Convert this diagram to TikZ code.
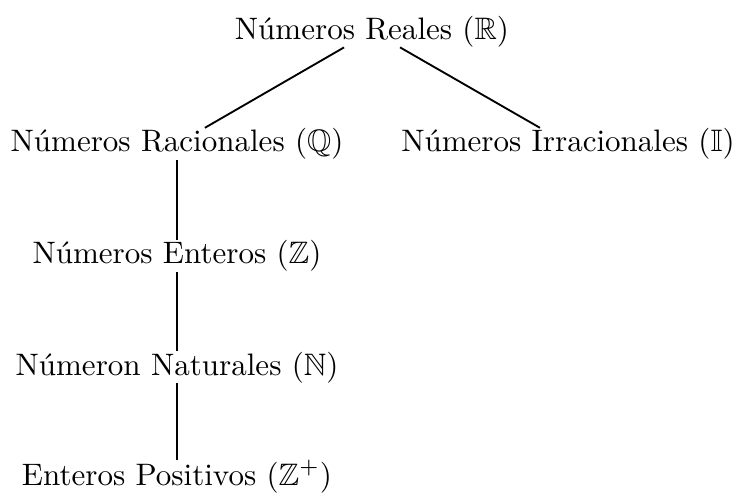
\documentclass[tikz,border=0pt]{standalone}
\usepackage{amssymb}
\begin{document}
\begin{tikzpicture}[x=0.3222pt,y=-0.3222pt,
  lbl/.style={inner sep=0pt,anchor=base},
  edge/.style={semithick}]
\useasboundingbox (0,0) rectangle (736,497);
\node[lbl] (R) at (372,39) {Números Reales ($\mathbb{R}$)};
\node[lbl] (Q) at (177,151.7) {Números Racionales ($\mathbb{Q}$)};
\node[lbl] (I) at (568,151.7) {Números Irracionales ($\mathbb{I}$)};
\node[lbl] (Z) at (177,263.5) {Números Enteros ($\mathbb{Z}$)};
\node[lbl] (N) at (177,375) {Númeron Naturales ($\mathbb{N}$)};
\node[lbl] (P) at (177,485) {Enteros Positivos ($\mathbb{Z}^{+}$)};
\draw[edge] (R) -- (Q);
\draw[edge] (R) -- (I);
\draw[edge] (Q) -- (Z);
\draw[edge] (Z) -- (N);
\draw[edge] (N) -- (P);
\end{tikzpicture}
\end{document}
